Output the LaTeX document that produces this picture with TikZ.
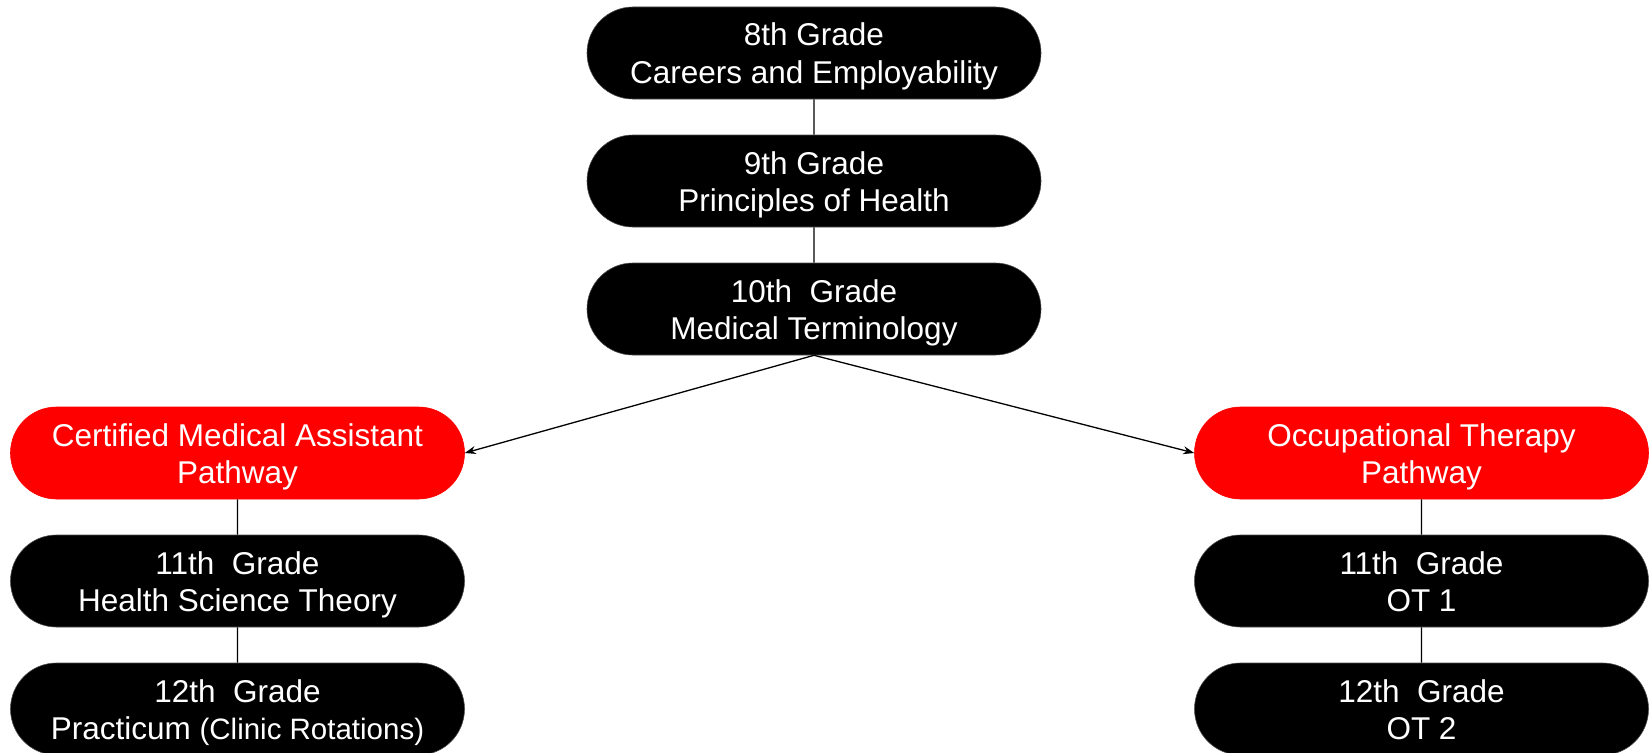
\documentclass[tikz,border=0pt]{standalone}
\usepackage{fontspec}
\setmainfont{Liberation Sans}
\usetikzlibrary{shapes.misc,arrows.meta}
\newcommand\pilltext[2]{\rule{0pt}{30pt}#1\\#2\rule[-7pt]{0pt}{7pt}}
\tikzset{
  pill/.style={rounded rectangle, fill=black, draw=black!70, line width=0.6pt, text=white,
    minimum width=454pt, minimum height=92pt, align=center, inner sep=0pt,
    font=\fontsize{31.5}{37}\selectfont},
  redpill/.style={pill, fill=red, draw=red},
  link/.style={draw=black, line width=1.3pt},
  arr/.style={link, -{Stealth[length=11pt,width=8pt]}}
}
\begin{document}
\begin{tikzpicture}[x=1pt,y=-1pt]
\useasboundingbox (0,0) rectangle (1651,752);
\node[pill] (g8) at (814,53) {\pilltext{8th Grade}{Careers and Employability}};
\node[pill] (g9) at (814,181) {\pilltext{9th Grade}{Principles of Health}};
\node[pill] (g10) at (814,309) {\pilltext{10th\ \ Grade}{Medical Terminology}};
\node[redpill] (cma) at (237.5,453) {\pilltext{Certified Medical Assistant}{Pathway}};
\node[pill] (c11) at (237.5,581) {\pilltext{11th\ \ Grade}{Health Science Theory}};
\node[pill] (c12) at (237.5,709) {\pilltext{12th\ \ Grade}{Practicum {\fontsize{29.5}{37}\selectfont(Clinic Rotations)}}};
\node[redpill] (ot) at (1421.5,453) {\pilltext{Occupational Therapy}{Pathway}};
\node[pill] (o11) at (1421.5,581) {\pilltext{11th\ \ Grade}{OT 1}};
\node[pill] (o12) at (1421.5,709) {\pilltext{12th\ \ Grade}{OT 2}};
\draw[link] (g8) -- (g9);
\draw[link] (g9) -- (g10);
\draw[arr] (g10.south) -- (cma.east);
\draw[arr] (g10.south) -- (ot.west);
\draw[link] (cma) -- (c11);
\draw[link] (c11) -- (c12);
\draw[link] (ot) -- (o11);
\draw[link] (o11) -- (o12);
\end{tikzpicture}
\end{document}
